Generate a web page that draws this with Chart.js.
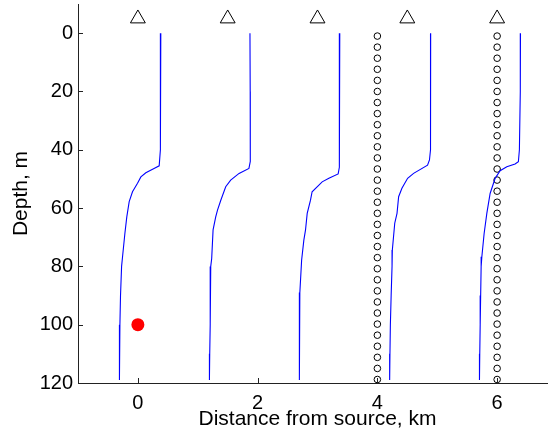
<!DOCTYPE html>
<html>
<head>
<meta charset="utf-8">
<script src="https://cdn.jsdelivr.net/npm/chart.js@4.4.0/dist/chart.umd.min.js"></script>
<style>
  html, body { margin: 0; padding: 0; background: #fff; overflow: hidden; }
  #wrap { width: 548px; height: 433px; overflow: hidden; }
</style>
</head>
<body>
<div id="wrap"><canvas id="chart" width="560" height="433"></canvas></div>
<script>
// stations (triangles along the surface)
const stationX = [0, 1.5, 3, 4.5, 6];
const stationDepth = [-5, -5, -5, -5, -5];

// sound speed profiles, plotted offset at each station
const prof1Depth = [0, 20, 40, 45.5, 46.4, 47.9, 49.3, 51.5, 54.4, 57.8, 63, 68.7, 76.7, 80, 90, 100, 110, 119];
const prof1X = [0.383, 0.38, 0.372, 0.356, 0.27, 0.133, 0.05, -0.006, -0.09, -0.145, -0.185, -0.217, -0.256, -0.272, -0.29, -0.3, -0.306, -0.31];

const prof2Depth = [0, 20, 40, 44, 46.4, 48.1, 50.4, 52.7, 57.3, 60.7, 63, 67.5, 77.3, 80, 90, 100, 110, 119];
const prof2X = [1.872, 1.876, 1.88, 1.875, 1.855, 1.69, 1.55, 1.467, 1.385, 1.33, 1.3, 1.256, 1.233, 1.217, 1.21, 1.206, 1.2, 1.195];

const prof3Depth = [0, 20, 40, 46, 48.3, 49.8, 51, 54.4, 57.3, 61.8, 67.5, 71, 77.8, 89, 100, 110, 119];
const prof3X = [3.372, 3.37, 3.365, 3.36, 3.345, 3.19, 3.078, 2.91, 2.883, 2.828, 2.8, 2.772, 2.735, 2.705, 2.7, 2.697, 2.695];

const prof4Depth = [0, 20, 40, 43.5, 45.3, 48.1, 49.8, 53.2, 56.1, 61.8, 65.2, 74.4, 80, 90, 100, 110, 119];
const prof4X = [4.89, 4.89, 4.885, 4.87, 4.838, 4.605, 4.505, 4.41, 4.355, 4.328, 4.29, 4.25, 4.245, 4.23, 4.217, 4.21, 4.205];

const prof5Depth = [0, 20, 40, 44.1, 44.9, 45.8, 47.2, 49.8, 55, 61.8, 68.7, 76.7, 80, 90, 100, 110, 119];
const prof5X = [6.39, 6.387, 6.372, 6.355, 6.3, 6.162, 6.05, 5.967, 5.883, 5.828, 5.783, 5.745, 5.733, 5.725, 5.717, 5.71, 5.705];

// hydrophone strings
const arrayX = [4, 6];
const phoneDepth = [1.0, 4.8, 8.6, 12.4, 16.2, 20.0, 23.8, 27.6, 31.4, 35.2, 39.0, 42.8, 46.6, 50.4, 54.2, 58.0,
  61.8, 65.6, 69.4, 73.2, 77.0, 80.8, 84.6, 88.4, 92.2, 96.0, 99.8, 103.6, 107.4, 111.2, 115.0, 118.8];

// source
const sourceX = [0];
const sourceDepth = [100];

const xTicks = [0, 2, 4, 6];
const yTicks = [0, 20, 40, 60, 80, 100, 120];

const axisColor = "#222";
const fontFamily = "'Liberation Sans', Arial, Helvetica, sans-serif";

const pts = (xs, ys) => xs.map((x, i) => ({ x: x, y: ys[i] }));

const profiles = [
  [prof1X, prof1Depth], [prof2X, prof2Depth], [prof3X, prof3Depth],
  [prof4X, prof4Depth], [prof5X, prof5Depth]
];

const datasets = [];

datasets.push({
  data: pts(sourceX, sourceDepth),
  pointStyle: "circle", pointRadius: 6.5,
  backgroundColor: "#ff0000", borderColor: "#ff0000", borderWidth: 0
});

datasets.push({
  data: pts(stationX, stationDepth),
  pointStyle: "triangle", pointRadius: 8.6,
  backgroundColor: "rgba(0,0,0,0)", borderColor: "#000", borderWidth: 1
});

profiles.forEach(([xs, ys]) => {
  datasets.push({
    data: pts(xs, ys),
    showLine: true, pointRadius: 0,
    borderColor: "#0000ff", borderWidth: 1.1, tension: 0
  });
});

arrayX.forEach(ax => {
  datasets.push({
    data: pts(phoneDepth.map(() => ax), phoneDepth),
    pointStyle: "circle", pointRadius: 3.3,
    backgroundColor: "rgba(0,0,0,0)", borderColor: "#000", borderWidth: 1
  });
});

// MATLAB style ticks pointing into the axes
const inwardTicks = {
  id: "inwardTicks",
  afterDraw(chart) {
    const { ctx, chartArea, scales: { x, y } } = chart;
    ctx.save();
    ctx.strokeStyle = axisColor;
    ctx.lineWidth = 1;
    ctx.beginPath();
    x.ticks.forEach(t => {
      const px = Math.round(x.getPixelForValue(t.value)) + 0.5;
      ctx.moveTo(px, chartArea.bottom);
      ctx.lineTo(px, chartArea.bottom - 5);
    });
    y.ticks.forEach(t => {
      const py = Math.round(y.getPixelForValue(t.value)) + 0.5;
      ctx.moveTo(chartArea.left, py);
      ctx.lineTo(chartArea.left + 5, py);
    });
    ctx.stroke();
    ctx.restore();
  }
};

new Chart(document.getElementById("chart").getContext("2d"), {
  type: "scatter",
  data: { datasets: datasets },
  plugins: [inwardTicks],
  options: {
    responsive: false,
    animation: false,
    devicePixelRatio: 1,
    layout: { autoPadding: false, padding: { top: 4, right: 3, left: 0, bottom: 0 } },
    plugins: { legend: { display: false }, tooltip: { enabled: false } },
    elements: { line: { fill: false } },
    scales: {
      x: {
        type: "linear", min: -1, max: 7,
        afterBuildTicks: s => { s.ticks = xTicks.map(v => ({ value: v })); },
        afterFit: s => { s.height = 50; s.paddingLeft = 0; s.paddingRight = 0; },
        grid: { display: true, drawOnChartArea: false, drawTicks: false },
        border: { display: true, color: axisColor, width: 1 },
        ticks: { color: "#000", padding: 8, font: { family: fontFamily, size: 20 } },
        title: {
          display: true, text: "Distance from source, km", color: "#000",
          font: { family: fontFamily, size: 21 }, padding: { top: 0, bottom: 1 }
        }
      },
      y: {
        type: "linear", min: -10, max: 120, reverse: true,
        afterBuildTicks: s => { s.ticks = yTicks.map(v => ({ value: v })); },
        afterFit: s => { s.width = 78; s.paddingTop = 0; s.paddingBottom = 0; },
        grid: { display: true, drawOnChartArea: false, drawTicks: false },
        border: { display: true, color: axisColor, width: 1 },
        ticks: { color: "#000", padding: 5, font: { family: fontFamily, size: 20 } },
        title: {
          display: true, text: "Depth, m", color: "#000",
          font: { family: fontFamily, size: 21 }, padding: { top: 9, bottom: 0 }
        }
      }
    }
  }
});
</script>
</body>
</html>
